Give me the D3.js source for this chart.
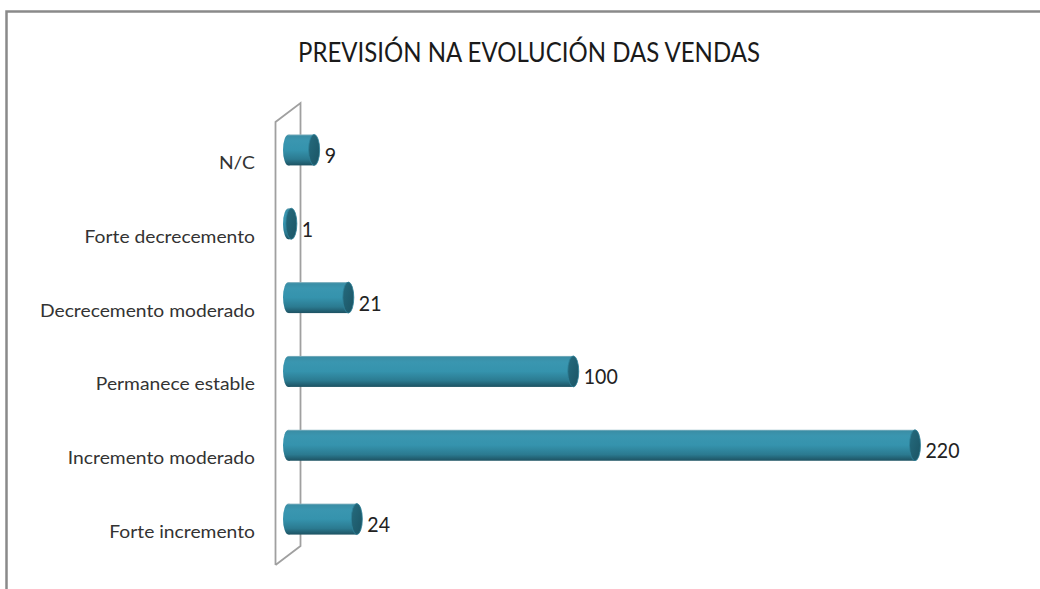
<!DOCTYPE html>
<html><head><meta charset="utf-8">
<script src="https://cdn.jsdelivr.net/npm/d3@7"></script>
<style>html,body{margin:0;padding:0;background:#fff;}svg{display:block;}</style>
</head><body>
<svg id="chart" width="1040" height="589"></svg>
<script>
const title = "PREVISIÓN NA EVOLUCIÓN DAS VENDAS";
const categories = ["N/C", "Forte decrecemento", "Decrecemento moderado", "Permanece estable", "Incremento moderado", "Forte incremento"];
const values = [9, 1, 21, 100, 220, 24];

const svg = d3.select("#chart");
const FONT = "Lato, 'Open Sans', sans-serif";

// outer frame
svg.append("path").attr("d", "M6.5,589 L6.5,11.5 L1040,11.5")
  .attr("fill", "none").attr("stroke", "#8a8a8a").attr("stroke-width", 2.5);

const defs = svg.append("defs");
const g1 = defs.append("linearGradient").attr("id", "body").attr("x1", 0).attr("y1", 0).attr("x2", 0).attr("y2", 1);
[[0, "#8fb8c4"], [0.05, "#3a8ea6"], [0.2, "#3a96b0"], [0.5, "#3593ad"], [0.8, "#2b7a90"], [1, "#1d5262"]]
  .forEach(([o, c]) => g1.append("stop").attr("offset", o).attr("stop-color", c));
const g2 = defs.append("linearGradient").attr("id", "cap").attr("x1", 0).attr("y1", 0).attr("x2", 1).attr("y2", 1);
[[0, "#256b7e"], [1, "#1b5464"]].forEach(([o, c]) => g2.append("stop").attr("offset", o).attr("stop-color", c));

const y = d3.scaleBand().domain(categories).range([113, 556]).paddingInner(0.58).paddingOuter(0.29);
const x = d3.scaleLinear().domain([0, 220]).range([288.5, 915]);
const rx = 5.5;

// back wall (perspective)
svg.append("path")
  .attr("d", "M275.5,565 L275.5,122 L300.5,103 L300.5,546 L275.5,565")
  .attr("fill", "none").attr("stroke", "#a0a0a0").attr("stroke-width", 1.8);

function squeeze(sel, refNode, target) {
  const f = target / refNode.getComputedTextLength();
  sel.each(function () {
    const w = this.getComputedTextLength();
    d3.select(this).attr("textLength", w * f).attr("lengthAdjust", "spacingAndGlyphs");
  });
}

// category axis labels
const cat = svg.append("g").selectAll("text").data(categories).join("text")
  .attr("x", 255).attr("y", d => y(d) + y.bandwidth() / 2 + 19)
  .attr("text-anchor", "end").attr("fill", "#333")
  .style("font-family", FONT).style("font-size", "17.4px").text(d => d);
squeeze(cat, cat.filter(d => d === "Decrecemento moderado").node(), 215);

// bars as cylinders
const bars = svg.append("g").selectAll("g").data(categories).join("g");
bars.each(function (d, i) {
  const gg = d3.select(this);
  const cy = y(d) + y.bandwidth() / 2, ry = y.bandwidth() / 2;
  const x0 = x(0), x1 = x(values[i]);
  gg.append("ellipse").attr("cx", x0).attr("cy", cy).attr("rx", rx).attr("ry", ry).attr("fill", "url(#body)");
  gg.append("rect").attr("x", x0).attr("y", y(d)).attr("width", x1 - x0).attr("height", y.bandwidth()).attr("fill", "url(#body)");
  gg.append("ellipse").attr("cx", x1).attr("cy", cy).attr("rx", rx).attr("ry", ry)
    .attr("fill", "url(#cap)").attr("stroke", "#2e8199").attr("stroke-width", 0.8);
});

// value labels
const vl = svg.append("g").selectAll("text").data(categories).join("text")
  .attr("x", (d, i) => x(values[i]) + rx + 5)
  .attr("y", d => y(d) + y.bandwidth() / 2 + 4.5)
  .attr("dominant-baseline", "central").attr("fill", "#222")
  .style("font-family", FONT).style("font-size", "21px").text((d, i) => values[i]);
squeeze(vl, vl.filter((d, i) => values[i] === 100).node(), 34);

// title
const t = svg.append("text").attr("x", 529).attr("y", 62).attr("text-anchor", "middle")
  .attr("fill", "#1a1a1a").style("font-family", FONT).style("font-size", "27px").text(title);
squeeze(t, t.node(), 462);
</script>
</body></html>
